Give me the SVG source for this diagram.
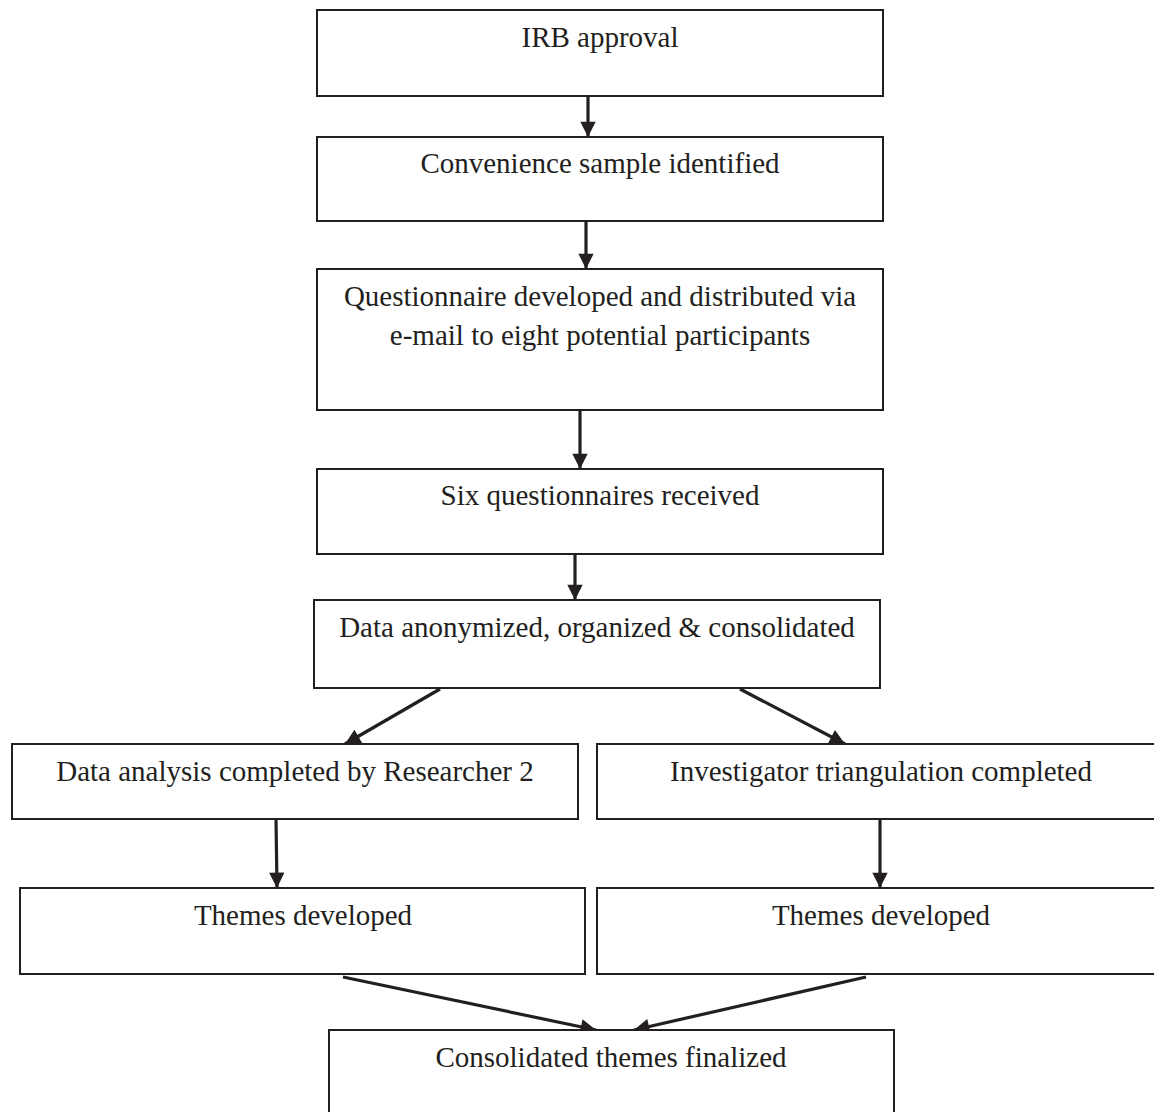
<svg xmlns="http://www.w3.org/2000/svg" width="1154" height="1112" viewBox="0 0 1154 1112">
<style>
.box{fill:#fff;stroke:#231f20;stroke-width:2}
.t{font-family:"Liberation Serif","Times New Roman",serif;font-size:29px;fill:#231f20;text-anchor:middle}
.c{stroke:#231f20;stroke-width:3.2;fill:none;marker-end:url(#ah)}
</style>
<defs>
<marker id="ah" viewBox="0 0 10 10" refX="10" refY="5" markerWidth="5.8" markerHeight="4.8" markerUnits="strokeWidth" orient="auto">
<path d="M0,0 L10,5 L0,10 z" fill="#231f20"/>
</marker>
</defs>
<rect width="1154" height="1112" fill="#fff"/>
<g id="connectors">
<line class="c" x1="588" y1="96" x2="588" y2="137"/>
<line class="c" x1="586" y1="221" x2="586" y2="269"/>
<line class="c" x1="580" y1="410" x2="580" y2="469"/>
<line class="c" x1="575" y1="554" x2="575" y2="600"/>
<line class="c" x1="440" y1="689" x2="345" y2="744"/>
<line class="c" x1="740" y1="689" x2="845" y2="744"/>
<line class="c" x1="276" y1="819" x2="277" y2="888"/>
<line class="c" x1="880" y1="819" x2="880" y2="888"/>
<line class="c" x1="343" y1="977" x2="596" y2="1030"/>
<line class="c" x1="866" y1="977" x2="634" y2="1030"/>
</g>
<g id="n1"><rect class="box" x="317" y="10" width="566" height="86"/><text class="t" x="600" y="47">IRB approval</text></g>
<g id="n2"><rect class="box" x="317" y="137" width="566" height="84"/><text class="t" x="600" y="173">Convenience sample identified</text></g>
<g id="n3"><rect class="box" x="317" y="269" width="566" height="141"/><text class="t" x="600" y="306">Questionnaire developed and distributed via</text><text class="t" x="600" y="345">e-mail to eight potential participants</text></g>
<g id="n4"><rect class="box" x="317" y="469" width="566" height="85"/><text class="t" x="600" y="505">Six questionnaires received</text></g>
<g id="n5"><rect class="box" x="314" y="600" width="566" height="88"/><text class="t" x="597" y="637">Data anonymized, organized &amp; consolidated</text></g>
<g id="n6"><rect class="box" x="12" y="744" width="566" height="75"/><text class="t" x="295" y="781">Data analysis completed by Researcher 2</text></g>
<g id="n7"><rect class="box" x="597" y="744" width="570" height="75"/><text class="t" x="881" y="781">Investigator triangulation completed</text></g>
<g id="n8"><rect class="box" x="20" y="888" width="565" height="86"/><text class="t" x="303" y="925">Themes developed</text></g>
<g id="n9"><rect class="box" x="597" y="888" width="570" height="86"/><text class="t" x="881" y="925">Themes developed</text></g>
<g id="n10"><rect class="box" x="329" y="1030" width="565" height="100"/><text class="t" x="611" y="1067">Consolidated themes finalized</text></g>
</svg>
